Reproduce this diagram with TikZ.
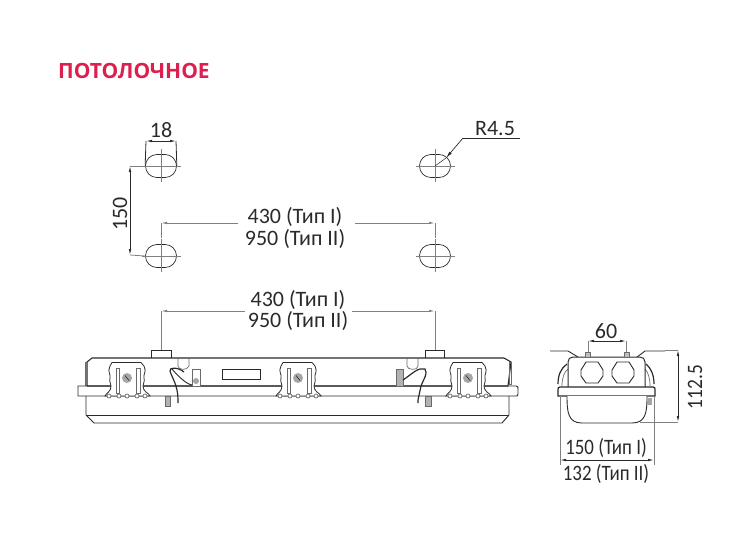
\documentclass[tikz,border=0pt]{standalone}
\usepackage{fontspec}
\setmainfont{Carlito}
\newfontfamily\ttlfont{Open Sans}
\usetikzlibrary{arrows.meta}
\definecolor{ttl}{HTML}{DC1F4F}
\definecolor{ink}{HTML}{2A2A2A}
\tikzset{
 dimtext/.style={font=\fontsize{22}{23}\selectfont,text=ink,inner sep=0pt},
 dimline/.style={draw=ink,line width=0.7pt,{Latex[length=6pt,width=2.5pt]}-{Latex[length=6pt,width=2.5pt]}},
 dimhalf/.style={draw=gray,line width=0.8pt,-{Latex[length=6pt,width=2.5pt]}},
 extline/.style={draw=gray,line width=0.8pt},
 centerl/.style={draw=gray,line width=0.6pt},
 slotshape/.style={draw=ink,line width=0.7pt,rounded corners=11.4pt,minimum width=31pt,minimum height=23pt,inner sep=0pt},
 outline/.style={draw=ink,line width=0.9pt},
 thin part/.style={draw=ink!70,line width=0.7pt},
}
\newcommand{\bracketshape}[2]{%
 \begin{scope}[shift={(#1,0)}]
  \path[outline,fill=white,line width=0.8pt] (-22,396) .. controls (-21,393) and (-16,392) .. (-16,386) .. controls (-16,383) and (-18,382) .. (-17,378) .. controls (-16,374) and (-20,372) .. (-17,366) -- (-15,362.5) -- (14,362.5) -- (17,366) .. controls (20,372) and (16,374) .. (17,378) .. controls (18,382) and (16,383) .. (16,386) .. controls (16,392) and (22,393) .. (23,396) -- cycle;
  \draw[thin part] (-11,368) rectangle (-8,393);
  \draw[thin part] (9,368) rectangle (13,393);
  \foreach \q in {-18,-8,0,10,18} \draw[thin part,fill=white] (\q,396) circle (2pt);
  \fill[gray!70] (0,378) circle (5pt);
  \draw[ink,line width=0.6pt] (-2,375.5)--(2,380.5);
  \node[circle,inner sep=0pt,minimum size=0pt] (#2) at (0,378) {};
 \end{scope}}
\begin{document}
\begin{tikzpicture}[x=1pt,y=-1pt]
\useasboundingbox (0,0) rectangle (754,539);
\node[anchor=west,inner sep=0pt,text=ttl,font=\ttlfont\fontsize{21}{22}\selectfont\bfseries] (title) at (58,70.5) {ПОТОЛОЧНОЕ};

% slots
\foreach \n/\x/\y in {sa/161/166,sb/161/256,sc/435/166,sd/435/256}{
 \node[slotshape] (\n) at (\x,\y) {};
 \draw[centerl] (\x-19,\y) -- (\x+20,\y) (\x,\y-17) -- (\x,\y+16);
}
% 18
\coordinate (a1) at (146,141); \coordinate (a2) at (176,141);
\draw[extline,ink] (a1) -- (sa.west);
\draw[extline,ink] (a2) -- (sa.east);
\draw[dimline] (a1) -- (a2);
\node[dimtext] (t18) at (161,130) {18};
% 150
\coordinate (b1) at (130,166); \coordinate (b2) at (130,255);
\draw[extline] (b1) -- (sa.west);
\draw[extline] (b2) -- (sb.west);
\draw[dimline] (b1) -- (b2);
\node[dimtext,rotate=90] (t150) at (120,214) {150};
% R4.5
\coordinate (r1) at (463,138); \coordinate (r2) at (520,138);
\draw[draw=ink,line width=0.8pt] (r2) -- (r1);
\draw[draw=ink,line width=0.7pt,-{Latex[length=7pt,width=3pt]}] (r1) -- (446,158);
\draw[draw=ink,line width=0.5pt] (446,158) -- (sc.center);
\node[dimtext] (tr) at (495,129) {R4.5};
% 430 upper
\coordinate (c1) at (161,223); \coordinate (c2) at (435,223);
\coordinate (c3) at (238,223); \coordinate (c4) at (355,223);
\draw[extline] (c1) -- (161,238);
\draw[extline] (c2) -- (435,238);
\draw[dimhalf] (c3) -- (c1);
\draw[dimhalf] (c4) -- (c2);
\node[dimtext] (u1) at (295,217) {430 (Тип I)};
\node[dimtext] (u2) at (295,239) {950 (Тип II)};
% 430 lower
\coordinate (d1) at (161,311); \coordinate (d2) at (435,311);
\coordinate (d3) at (245,311); \coordinate (d4) at (352,311);
\draw[extline] (d1) -- (161,350);
\draw[extline] (d2) -- (435,350);
\draw[dimhalf] (d3) -- (d1);
\draw[dimhalf] (d4) -- (d2);
\node[dimtext] (l1) at (298,300) {430 (Тип I)};
\node[dimtext] (l2) at (298,321) {950 (Тип II)};

% fixture long view
\draw[outline,line width=1.1pt,fill=white] (151,358) -- (92,358) -- (87,362) -- (87,386) (87,386) -- (508,386) (508,386) -- (511,362) -- (504,358) -- (151,358);
\draw[outline] (151,358) -- (151,350) -- (171,350) -- (171,358);
\draw[outline] (425,358) -- (425,350) -- (444,350) -- (444,358);
\draw[thin part] (85,362) -- (85,386);
\draw[thin part] (509,362) rectangle (511,384);
\draw[outline] (80,386) -- (516,386) .. controls (518,386) and (518,387) .. (518,389) -- (518,394) .. controls (518,396) and (517,396) .. (516,396) -- (78,396) -- (78,386) -- (80,386);
\draw[outline] (86,396) -- (86,415) -- (94,423) -- (502,423) -- (509,415) -- (509,396);
\draw[outline,line width=0.7pt] (86,415) -- (509,415);
\draw[outline] (222,369) rectangle (260,379);
% clips
\draw[thin part] (178,358) -- (178,366) .. controls (178,370) and (187,371) .. (189,366) -- (189,358);
\draw[thin part,fill=white] (192,369) rectangle (200,386);
\fill[gray!70] (196,381) circle (3pt);
\draw[thin part,fill=gray!60] (165,396) rectangle (170,406);
\draw[outline,line width=1.2pt] (184,372) .. controls (178,367) and (169,367) .. (170,371) .. controls (172,378) and (178,385) .. (178,400) -- (178,403);
\draw[outline] (172,369) .. controls (178,376) and (186,384) .. (192,385);
\draw[thin part] (407,358) -- (407,366) .. controls (407,370) and (418,371) .. (418,366) -- (418,358);
\draw[thin part,fill=gray!60] (396,369) rectangle (403,386);
\draw[thin part,fill=gray!60] (425,396) rectangle (431,406);
\draw[outline,line width=1.2pt] (403,380) .. controls (412,374) and (418,367) .. (425,369) .. controls (428,374) and (424,378) .. (421,386) -- (418,400) -- (418,403);
\bracketshape{127}{ba}
\bracketshape{298}{bb}
\bracketshape{468}{bc}

% side view
\draw[outline,line width=1.2pt] (558,384) .. controls (558,375) and (561,368) .. (567,364);
\draw[outline,line width=1.2pt] (654,384) .. controls (654,375) and (651,368) .. (646,364);
\draw[thin part] (562,386) .. controls (562,378) and (564,372) .. (568,369);
\draw[thin part] (650,386) .. controls (650,378) and (648,372) .. (645,369);
\draw[outline,line width=1pt] (568,387) -- (568,362) .. controls (568,359) and (570,357) .. (573,357) -- (640,357) .. controls (643,357) and (645,359) .. (645,362) -- (645,387);
\draw[outline,line width=1.2pt,fill=white] (560,387) -- (653,387) .. controls (655,387) and (655,388) .. (655,390) -- (655,396) -- (558,396) -- (558,390) .. controls (558,388) and (558,387) .. (560,387) -- cycle;
\draw[outline,fill=white] (567,396) .. controls (567,412) and (568,423) .. (582,423) -- (632,423) .. controls (646,423) and (647,412) .. (647,396);
\foreach \n/\x in {ha/592,hb/623}{
 \draw[outline,fill=white] (\x-11,370) -- (\x-6,362) -- (\x+6,362) -- (\x+11,370) -- (\x+11,376) -- (\x+6,383) -- (\x-6,383) -- (\x-11,376) -- cycle;
 \coordinate (\n) at (\x,373);
}
\draw[thin part,fill=gray!50] (585,352) rectangle (590,357);
\draw[thin part,fill=gray!50] (624,352) rectangle (629,357);
\draw[outline] (550,351) -- (568,351) -- (578,357);
\draw[outline] (665,351) -- (645,351) -- (637,357);
\fill[gray!70] (647,398) rectangle (652,405);
% 60
\coordinate (e1) at (588,341); \coordinate (e2) at (626,341);
\draw[extline] (e1) -- (588,352);
\draw[extline] (e2) -- (626,352);
\draw[dimline] (e1) -- (e2);
\node[dimtext] (t60) at (606,331) {60};
% 112.5
\coordinate (f1) at (678,350); \coordinate (f2) at (678,422);
\draw[extline] (665,350) -- (f1);
\draw[extline] (640,422) -- (f2);
\draw[dimline] (f1) -- (f2);
\node[dimtext,rotate=90,xscale=0.88] (t112) at (695,387) {112.5};
% 150/132
\coordinate (g1) at (560,460); \coordinate (g2) at (654,460);
\draw[extline] (560,396) -- (560,465);
\draw[extline] (654,396) -- (654,465);
\draw[dimline] (g1) -- (g2);
\node[dimtext,xscale=0.86] (t150b) at (606,448) {150 (Тип I)};
\node[dimtext,xscale=0.86] (t132) at (606,474) {132 (Тип II)};
\end{tikzpicture}
\end{document}
